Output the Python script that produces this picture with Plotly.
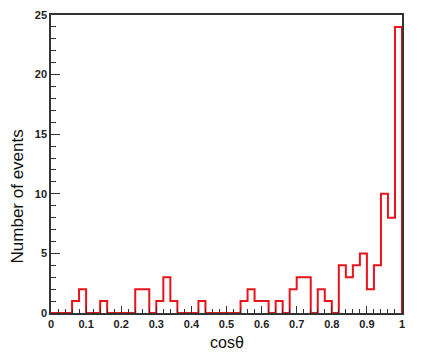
import plotly.graph_objects as go

# histogram of cos(theta), 50 bins of width 0.02 on [0, 1]
bin_width = 0.02
counts = [0, 0, 0, 1, 2, 0, 0, 1, 0, 0,
          0, 0, 2, 2, 0, 1, 3, 1, 0, 0,
          0, 1, 0, 0, 0, 0, 0, 1, 2, 1,
          1, 0, 1, 0, 2, 3, 3, 0, 2, 1,
          0, 4, 3, 4, 5, 2, 4, 10, 8, 24]
x_ticks = [0, 0.1, 0.2, 0.3, 0.4, 0.5, 0.6, 0.7, 0.8, 0.9, 1]
x_tick_text = ["0", "0.1", "0.2", "0.3", "0.4", "0.5", "0.6", "0.7", "0.8", "0.9", "1"]
y_ticks = [0, 5, 10, 15, 20, 25]

edges = [round(i * bin_width, 2) for i in range(len(counts) + 1)]

# step outline: left edge of every bin, then drop to zero at the right end
xs = edges[:-1] + [edges[-1]]
ys = counts + [0]

fig = go.Figure(go.Scatter(
    x=xs, y=ys, mode="lines",
    line=dict(color="#e8141c", width=2, shape="hv"),
    cliponaxis=False, showlegend=False, hoverinfo="skip",
))

tickfont = dict(family="Liberation Sans", size=11, color="#222", weight="bold")
fig.update_xaxes(
    range=[0, 1], tickvals=x_ticks, ticktext=x_tick_text,
    ticks="inside", ticklen=7, tickwidth=1, tickcolor="#333",
    minor=dict(dtick=bin_width, ticks="inside", ticklen=4, tickcolor="#333"),
    showline=True, linecolor="#333", linewidth=1.5, mirror=True,
    showgrid=False, zeroline=False, tickfont=tickfont,
)
fig.update_yaxes(
    range=[0, 25], tickvals=y_ticks,
    ticks="inside", ticklen=9, tickwidth=1, tickcolor="#333",
    minor=dict(dtick=1, ticks="inside", ticklen=5, tickcolor="#333"),
    showline=True, linecolor="#333", linewidth=1.5, mirror=True,
    showgrid=False, zeroline=False, tickfont=tickfont,
)

fig.update_layout(
    width=432, height=355,
    margin=dict(l=51, r=30, t=9, b=42),
    paper_bgcolor="white", plot_bgcolor="white",
    annotations=[
        dict(text="cosθ", xref="paper", yref="paper", x=0.5, y=-0.063,
             xanchor="center", yanchor="top", showarrow=False,
             font=dict(family="Liberation Sans", size=16, color="#111")),
        dict(text="Number of events", xref="paper", yref="paper", x=-0.095,
             y=0.39, xanchor="center", yanchor="middle", showarrow=False,
             textangle=-90,
             font=dict(family="Liberation Sans", size=17, color="#111")),
    ],
)

# drop the default page margin so the figure sits at the window corner
fig.write_html("out.html", config={"displayModeBar": False},
               post_script="document.body.style.margin='0';")
